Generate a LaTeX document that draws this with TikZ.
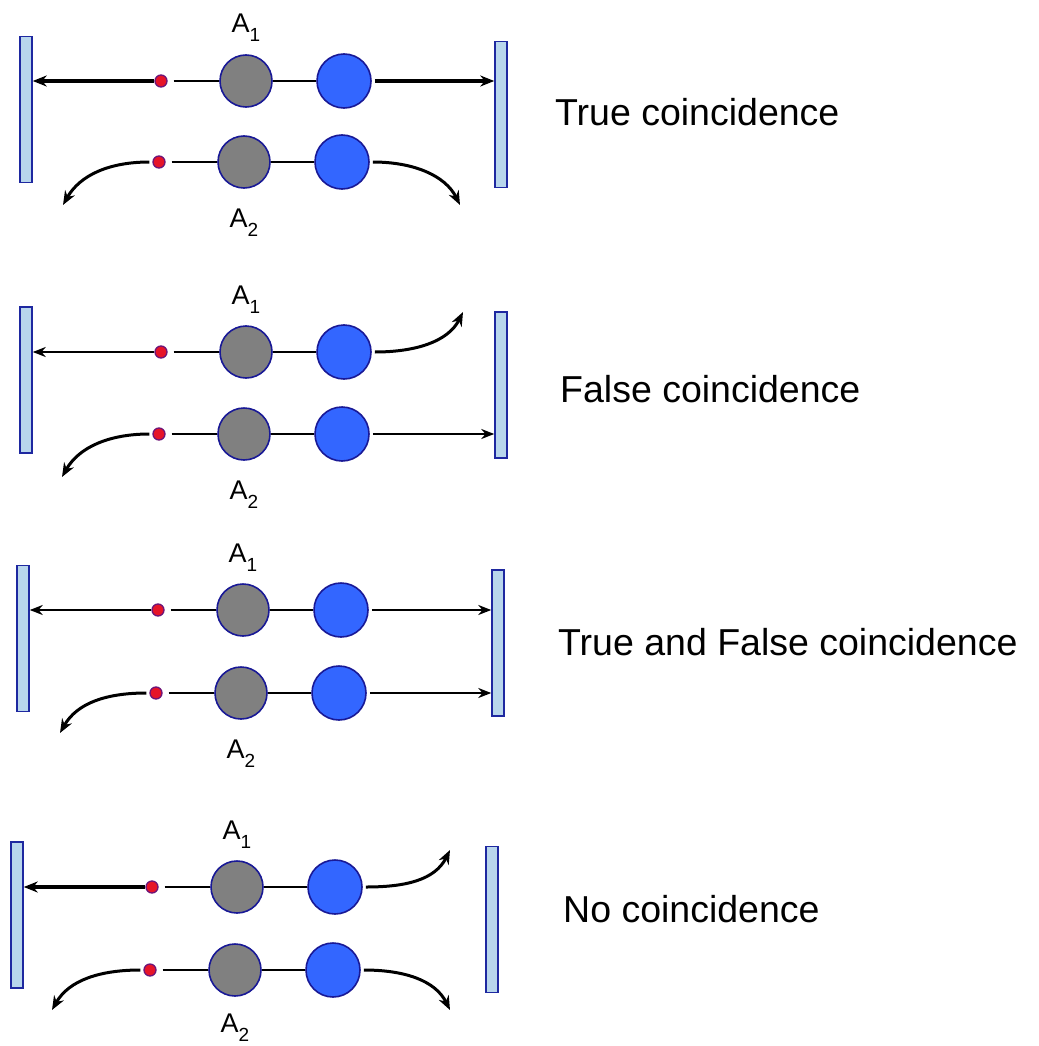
\documentclass[tikz,border=0pt]{standalone}
\usepackage{fontspec}
\setmainfont{Liberation Sans}
\usetikzlibrary{arrows.meta}
\definecolor{detfill}{RGB}{184,214,236}
\definecolor{detdraw}{RGB}{30,40,160}
\definecolor{ringc}{RGB}{25,25,150}
\definecolor{grayfill}{RGB}{128,128,128}
\definecolor{bluefill}{RGB}{51,102,255}
\definecolor{redfill}{RGB}{230,20,40}
\definecolor{dotring}{RGB}{110,20,120}
\newcommand\mkpanel[7]{%
  \node[det] (#1dl) at (26+#2,#5) {};
  \node[det] (#1dr) at (501+#2,#6) {};
  \node[dot] (#1rt) at (161+#2,#3) {};
  \node[heavy] (#1gt) at (246+#2,#3) {};
  \node[light] (#1bt) at (344+#2,#3) {};
  \node[dot] (#1rb) at (159+#2,#4) {};
  \node[heavy] (#1gb) at (244+#2,#4) {};
  \node[light] (#1bb) at (342+#2,#4) {};
  \draw[link] ([xshift=6pt]#1rt.east) -- (#1gt.west);
  \draw[link] (#1gt.east) -- (#1bt.west);
  \draw[link] ([xshift=6pt]#1rb.east) -- (#1gb.west);
  \draw[link] (#1gb.east) -- (#1bb.west);
  \node[alab] (#1a1) at (246+#2,#3-48) {A\raisebox{-9pt}{\fontsize{19}{19}\selectfont 1}};
  \node[alab] (#1a2) at (244+#2,#4+#7) {A\raisebox{-9pt}{\fontsize{19}{19}\selectfont 2}};
}
\begin{document}
\begin{tikzpicture}[x=1pt,y=-1pt,
  det/.style={draw=detdraw, fill=detfill, line width=1.5pt, minimum width=12pt, minimum height=146pt, inner sep=0pt},
  heavy/.style={circle, fill=grayfill, draw=ringc, line width=1.6pt, minimum size=52pt, inner sep=0pt},
  light/.style={circle, fill=bluefill, draw=ringc, line width=1.6pt, minimum size=54pt, inner sep=0pt},
  dot/.style={circle, fill=redfill, draw=dotring, line width=1.3pt, minimum size=12pt, inner sep=0pt},
  link/.style={line width=2.4pt},
  ray/.style={line width=2.3pt, -{Stealth[length=13pt,width=10pt]}},
  bigray/.style={line width=3.4pt, -{Stealth[length=14pt,width=11pt]}},
  curve/.style={line width=3pt, -{Stealth[length=14pt,width=11pt]}},
  title/.style={font=\fontsize{37.5}{40}\selectfont, anchor=base west, inner sep=0pt},
  alab/.style={font=\fontsize{27}{30}\selectfont, anchor=base, inner sep=0pt}
]
\fill[white] (0,0) rectangle (1038,1046);
\useasboundingbox (0,0) rectangle (1038,1046);

% ---- Panel 1: True coincidence
\mkpanel{a}{0}{81}{162}{109.5}{114.5}{65}
\coordinate (aebl) at (63,205);
\coordinate (aebr) at (460,205);
\draw[bigray] (art.west) -- (adl.east |- art.center);
\draw[bigray] ([xshift=3pt]abt.east) -- (adr.west |- abt.center);
\draw[curve] ([xshift=-3pt]arb.west) .. controls +(-40,0) and +(17,-30) .. (aebl);
\draw[curve] ([xshift=3pt]abb.east) .. controls +(40,0) and +(-15,-30) .. (aebr);
\node[title] (t1) at (555,125) {True coincidence};

% ---- Panel 2: False coincidence
\mkpanel{b}{0}{352}{434}{380}{385}{65}
\coordinate (betr) at (463,312);
\coordinate (bebl) at (62,477);
\draw[ray] (brt.west) -- (bdl.east |- brt.center);
\draw[curve] ([xshift=3pt]bbt.east) .. controls +(40,0) and +(-15,30) .. (betr);
\draw[curve] ([xshift=-3pt]brb.west) .. controls +(-40,0) and +(17,-30) .. (bebl);
\draw[ray] ([xshift=3pt]bbb.east) -- (bdr.west |- bbb.center);
\node[title] (t2) at (560,402) {False coincidence};

% ---- Panel 3: True and False coincidence
\mkpanel{c}{-3}{610}{693}{638.5}{643}{65}
\coordinate (cebl) at (60,733);
\draw[ray] (crt.west) -- (cdl.east |- crt.center);
\draw[ray] ([xshift=3pt]cbt.east) -- (cdr.west |- cbt.center);
\draw[curve] ([xshift=-3pt]crb.west) .. controls +(-40,0) and +(17,-30) .. (cebl);
\draw[ray] ([xshift=3pt]cbb.east) -- (cdr.west |- cbb.center);
\node[title] (t3) at (558,655) {True and False coincidence};

% ---- Panel 4: No coincidence
\mkpanel{d}{-9}{887}{970}{915}{919.5}{62}
\coordinate (detr) at (450,850);
\coordinate (debl) at (52,1010);
\coordinate (debr) at (450,1010);
\draw[bigray] (drt.west) -- (ddl.east |- drt.center);
\draw[curve] ([xshift=3pt]dbt.east) .. controls +(40,0) and +(-15,30) .. (detr);
\draw[curve] ([xshift=-3pt]drb.west) .. controls +(-40,0) and +(17,-30) .. (debl);
\draw[curve] ([xshift=3pt]dbb.east) .. controls +(40,0) and +(-15,-30) .. (debr);
\node[title] (t4) at (563,922) {No coincidence};
\end{tikzpicture}
\end{document}
